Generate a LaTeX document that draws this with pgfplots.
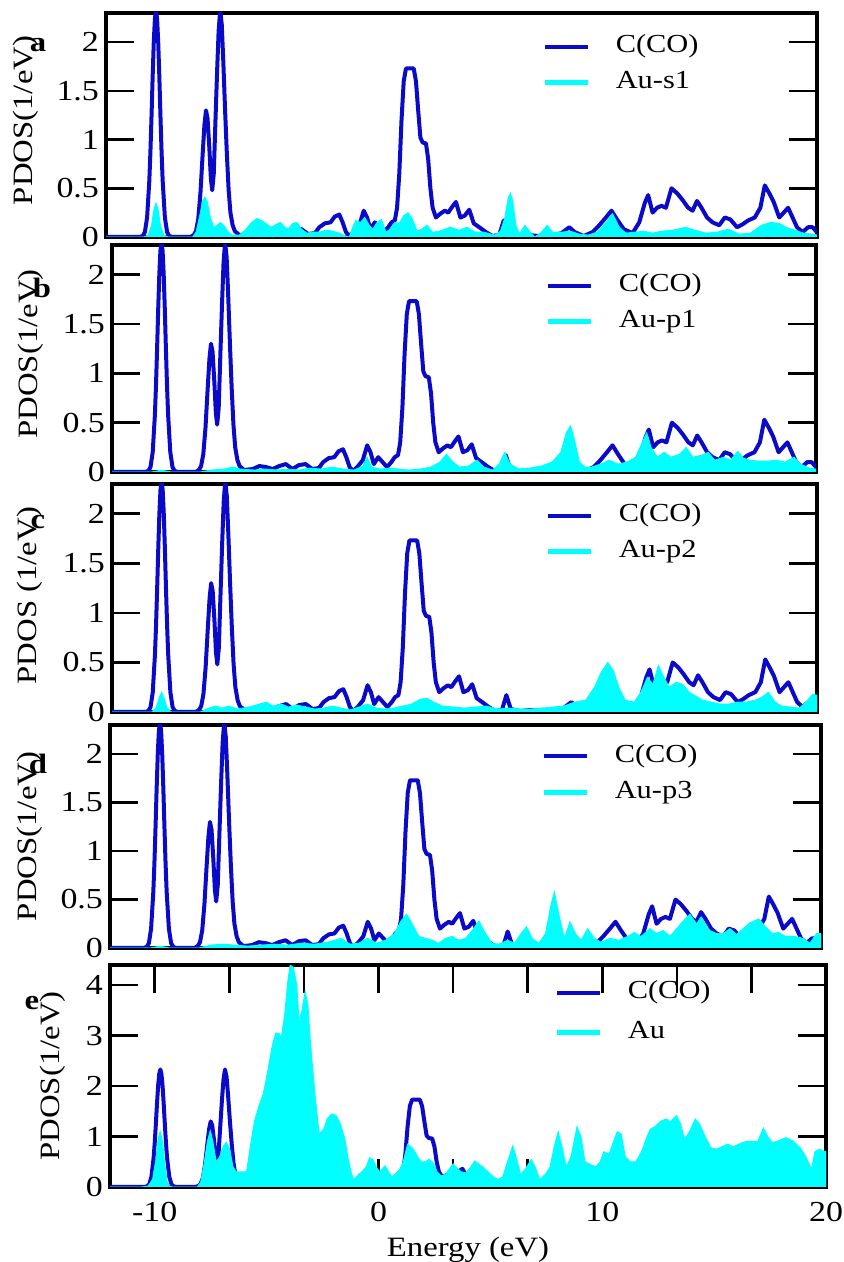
\documentclass[border=0pt]{standalone}
\usepackage{pgfplots}
\pgfplotsset{compat=1.18}
\usepackage{pgfplotstable}
\usepackage{fontspec}
\setmainfont{Liberation Serif}[FakeStretch=1.17]
\definecolor{ccoblue}{RGB}{10,10,200}
\definecolor{aucyan}{RGB}{0,255,255}

\pgfplotstableread{
x y
-12 0
-10.5 0
-10.35 0.01
-10.25 0.05
-10.15 0.2
-10.05 0.58
-10.0 0.88
-9.95 1.25
-9.9 1.65
-9.85 2.0
-9.8 2.24
-9.75 2.33
-9.7 2.24
-9.65 2.0
-9.6 1.65
-9.55 1.25
-9.5 0.88
-9.45 0.58
-9.35 0.2
-9.25 0.05
-9.15 0.01
-9.0 0
-8.2 0
-8.05 0.02
-7.95 0.06
-7.85 0.18
-7.75 0.45
-7.65 0.85
-7.57 1.15
-7.5 1.3
-7.43 1.22
-7.35 0.92
-7.28 0.6
-7.22 0.48
-7.15 0.65
-7.08 1.15
-7.0 1.7
-6.93 2.12
-6.86 2.33
-6.79 2.18
-6.72 1.8
-6.64 1.3
-6.56 0.85
-6.48 0.48
-6.4 0.25
-6.3 0.12
-6.2 0.06
-6.0 0.02
-5.6 0.03
-5.3 0.06
-5.0 0.05
-4.7 0.03
-4.4 0.06
-4.1 0.08
-3.8 0.03
-3.5 0.07
-3.2 0.08
-2.9 0.03
-2.6 0.04
-2.4 0.1
-2.15 0.14
-1.9 0.15
-1.7 0.21
-1.5 0.23
-1.35 0.15
-1.2 0.05
-1.05 0.01
-0.85 0.05
-0.6 0.12
-0.4 0.27
-0.25 0.2
-0.1 0.08
0.1 0.15
0.3 0.1
0.5 0.05
0.7 0.1
0.85 0.15
1.0 0.17
1.1 0.3
1.2 0.65
1.3 1.2
1.4 1.6
1.5 1.73
1.85 1.73
1.95 1.6
2.05 1.3
2.15 1.02
2.25 0.97
2.4 0.96
2.5 0.8
2.6 0.5
2.7 0.3
2.85 0.2
3.05 0.24
3.25 0.27
3.4 0.25
3.55 0.3
3.75 0.36
3.95 0.2
4.15 0.22
4.35 0.28
4.55 0.14
4.8 0.1
5.1 0.05
5.4 0.01
5.7 0.02
5.9 0.17
6.1 0.03
6.5 0.01
7.0 0.02
7.5 0.01
8.0 0.01
8.5 0.04
8.85 0.1
9.1 0.05
9.5 0.01
9.9 0.05
10.2 0.12
10.5 0.2
10.75 0.27
11.0 0.18
11.3 0.08
11.7 0.04
12.0 0.15
12.25 0.35
12.4 0.43
12.6 0.25
12.8 0.3
13.0 0.32
13.2 0.3
13.45 0.5
13.7 0.45
13.95 0.38
14.2 0.3
14.4 0.27
14.6 0.37
14.8 0.3
15.05 0.2
15.3 0.15
15.6 0.12
15.85 0.2
16.1 0.18
16.4 0.1
16.65 0.13
16.9 0.17
17.2 0.2
17.45 0.3
17.65 0.53
17.85 0.45
18.05 0.36
18.3 0.2
18.5 0.25
18.7 0.3
18.9 0.2
19.1 0.1
19.35 0.05
19.6 0.1
19.8 0.1
20 0.05
}\cco

\pgfplotstableread{
x y
-12 0
-10.3 0
-10.1 0.02
-9.95 0.12
-9.85 0.28
-9.75 0.35
-9.65 0.28
-9.55 0.12
-9.4 0.02
-9.2 0
-8.1 0
-7.95 0.05
-7.8 0.2
-7.65 0.37
-7.55 0.41
-7.45 0.37
-7.3 0.2
-7.15 0.1
-7.0 0.12
-6.85 0.15
-6.7 0.12
-6.5 0.05
-6.3 0.02
-6.0 0.02
-5.7 0.08
-5.45 0.15
-5.2 0.19
-5.0 0.17
-4.75 0.13
-4.55 0.1
-4.35 0.13
-4.15 0.15
-3.95 0.1
-3.8 0.08
-3.6 0.14
-3.4 0.15
-3.2 0.08
-2.95 0.04
-2.7 0.05
-2.4 0.05
-2.1 0.07
-1.8 0.06
-1.5 0.04
-1.2 0.01
-1.05 0.0
-0.9 0.1
-0.75 0.17
-0.55 0.15
-0.35 0.2
-0.15 0.12
0.0 0.08
0.2 0.15
0.4 0.18
0.6 0.05
0.8 0.08
1.0 0.15
1.2 0.14
1.4 0.22
1.6 0.25
1.8 0.18
2.0 0.06
2.2 0.08
2.45 0.12
2.7 0.05
3.0 0.06
3.5 0.1
3.9 0.07
4.25 0.1
4.6 0.05
5.0 0.05
5.5 0.02
5.75 0.06
5.95 0.2
6.1 0.4
6.2 0.45
6.3 0.38
6.45 0.12
6.6 0.03
6.85 0.12
7.1 0.05
7.3 0.0
7.6 0.05
7.85 0.12
8.1 0.05
8.5 0.05
8.9 0.06
9.3 0.03
9.7 0.02
10.1 0.05
10.5 0.15
10.8 0.24
11.1 0.1
11.4 0.04
11.8 0.05
12.2 0.06
12.6 0.04
13.0 0.06
13.5 0.07
14.1 0.1
14.5 0.07
15.0 0.04
15.5 0.05
16.0 0.08
16.5 0.03
17.0 0.04
17.5 0.12
17.9 0.15
18.3 0.14
18.6 0.1
19.0 0.07
19.4 0.04
19.8 0.03
20 0.02
}\aus

\pgfplotstableread{
x y
-12 0
-10.2 0
-9.75 0.02
-9.3 0
-8 0
-7.5 0.02
-6.9 0.03
-6.5 0.05
-6.2 0.03
-5.5 0.02
-5 0.03
-4.5 0.02
-4 0.03
-3.5 0.02
-3 0.04
-2.5 0.03
-2 0.05
-1.5 0.03
-1 0.02
-0.6 0.06
-0.4 0.15
-0.2 0.05
0.2 0.03
0.6 0.04
1.0 0.03
1.5 0.02
2.0 0.03
2.5 0.05
2.9 0.1
3.2 0.18
3.5 0.1
3.8 0.05
4.2 0.06
4.6 0.12
4.9 0.05
5.3 0.02
5.6 0.08
5.85 0.2
6.1 0.08
6.5 0.03
7.0 0.04
7.5 0.06
8.0 0.1
8.4 0.2
8.65 0.4
8.85 0.47
9.05 0.3
9.25 0.1
9.5 0.05
9.8 0.05
10.2 0.08
10.6 0.12
11.0 0.08
11.4 0.1
11.8 0.15
12.1 0.3
12.3 0.4
12.5 0.25
12.8 0.15
13.1 0.2
13.4 0.15
13.8 0.18
14.1 0.25
14.4 0.15
14.8 0.17
15.1 0.2
15.4 0.12
15.8 0.15
16.1 0.12
16.45 0.21
16.7 0.14
17.0 0.12
17.4 0.11
17.8 0.11
18.2 0.12
18.6 0.1
19.0 0.15
19.3 0.08
19.7 0.04
20 0.03
}\aupa

\pgfplotstableread{
x y
-12 0
-10.2 0
-10.0 0.04
-9.85 0.15
-9.75 0.2
-9.65 0.15
-9.5 0.04
-9.3 0
-8 0
-7.6 0.04
-7.3 0.06
-7.0 0.04
-6.7 0.06
-6.3 0.03
-5.8 0.05
-5.3 0.08
-5.0 0.1
-4.7 0.06
-4.3 0.08
-4.0 0.05
-3.6 0.07
-3.2 0.05
-2.8 0.03
-2.4 0.04
-2.0 0.06
-1.6 0.04
-1.2 0.02
-0.8 0.05
-0.4 0.08
0.0 0.04
0.4 0.03
0.8 0.04
1.2 0.06
1.6 0.08
2.0 0.13
2.3 0.14
2.6 0.1
3.0 0.06
3.5 0.05
4.0 0.04
4.5 0.05
5.0 0.06
5.5 0.03
6.0 0.04
6.5 0.03
7.0 0.03
7.5 0.04
8.0 0.05
8.5 0.06
9.0 0.1
9.5 0.12
9.9 0.25
10.2 0.4
10.5 0.5
10.75 0.42
11.0 0.25
11.3 0.12
11.7 0.1
12.0 0.2
12.3 0.35
12.55 0.28
12.8 0.47
13.05 0.35
13.3 0.25
13.6 0.3
13.9 0.28
14.2 0.2
14.5 0.16
14.8 0.12
15.2 0.1
15.6 0.08
16.0 0.08
16.4 0.1
16.8 0.1
17.2 0.12
17.5 0.15
17.8 0.2
18.1 0.1
18.4 0.06
18.8 0.05
19.2 0.04
19.5 0.1
19.8 0.18
20 0.17
}\aupb

\pgfplotstableread{
x y
-12 0
-10.2 0
-9.75 0.02
-9.3 0
-8.0 0
-7.5 0.03
-6.9 0.04
-6.4 0.03
-5.8 0.02
-5.2 0.03
-4.6 0.04
-4.0 0.03
-3.4 0.05
-2.8 0.04
-2.2 0.06
-1.6 0.1
-1.2 0.04
-0.8 0.05
-0.4 0.1
0.0 0.05
0.4 0.08
0.8 0.15
1.1 0.28
1.35 0.35
1.6 0.25
1.9 0.12
2.2 0.1
2.5 0.08
2.8 0.05
3.1 0.1
3.4 0.12
3.7 0.08
4.0 0.1
4.3 0.18
4.6 0.28
4.9 0.15
5.2 0.05
5.5 0.04
5.9 0.08
6.2 0.05
6.5 0.15
6.75 0.22
7.0 0.1
7.3 0.05
7.6 0.15
7.85 0.45
8.0 0.58
8.2 0.35
8.45 0.1
8.7 0.27
8.95 0.15
9.2 0.08
9.5 0.2
9.8 0.1
10.1 0.06
10.5 0.1
10.9 0.08
11.3 0.12
11.6 0.16
11.9 0.12
12.3 0.2
12.6 0.15
12.9 0.18
13.2 0.12
13.5 0.2
13.8 0.28
14.1 0.35
14.4 0.25
14.6 0.32
15.0 0.18
15.3 0.15
15.6 0.15
15.9 0.2
16.2 0.14
16.5 0.2
16.8 0.26
17.2 0.3
17.5 0.22
17.8 0.15
18.1 0.16
18.4 0.12
18.8 0.12
19.2 0.1
19.5 0.05
19.8 0.15
20 0.15
}\aupc

\pgfplotstableread{
x y
-12 0
-10.6 0
-10.3 0.02
-10.1 0.15
-9.95 0.55
-9.85 0.95
-9.76 1.1
-9.65 0.9
-9.55 0.45
-9.45 0.12
-9.35 0.02
-9.2 0
-8.1 0
-7.95 0.1
-7.8 0.45
-7.65 0.9
-7.52 1.12
-7.4 0.9
-7.25 0.5
-7.1 0.6
-6.95 0.8
-6.8 0.89
-6.65 0.75
-6.5 0.4
-6.35 0.3
-6.1 0.3
-5.9 0.3
-5.75 0.75
-5.55 1.3
-5.35 1.6
-5.15 1.85
-4.95 2.3
-4.75 2.8
-4.6 3.05
-4.45 3.05
-4.35 2.95
-4.2 3.4
-4.05 4.1
-3.95 4.4
-3.8 4.35
-3.65 4.0
-3.55 3.3
-3.42 3.5
-3.28 3.88
-3.15 3.6
-3.03 2.8
-2.85 1.9
-2.65 1.05
-2.45 1.15
-2.3 1.35
-2.1 1.45
-1.9 1.42
-1.7 1.25
-1.5 0.95
-1.35 0.55
-1.2 0.25
-1.1 0.15
-0.9 0.25
-0.75 0.3
-0.55 0.4
-0.4 0.58
-0.25 0.55
-0.1 0.4
0.05 0.3
0.2 0.38
0.3 0.42
0.45 0.3
0.6 0.2
0.8 0.28
0.95 0.35
1.1 0.5
1.3 0.85
1.45 0.8
1.6 0.72
1.75 0.6
1.9 0.5
2.1 0.5
2.26 0.55
2.45 0.48
2.62 0.3
2.8 0.22
2.98 0.25
3.15 0.35
3.34 0.46
3.5 0.38
3.7 0.3
3.9 0.28
4.1 0.38
4.3 0.52
4.5 0.45
4.66 0.4
4.9 0.3
5.14 0.2
5.35 0.15
5.55 0.2
5.8 0.55
6.0 0.82
6.15 0.6
6.35 0.25
6.55 0.35
6.83 0.55
7.0 0.4
7.2 0.15
7.45 0.25
7.67 0.4
7.85 0.8
8.03 1.1
8.2 0.8
8.39 0.4
8.6 0.6
8.87 1.2
9.05 1.0
9.23 0.5
9.45 0.45
9.71 0.4
9.9 0.5
10.07 0.7
10.3 0.65
10.5 0.9
10.67 1.1
10.85 1.05
11.03 0.6
11.25 0.5
11.5 0.5
11.75 0.7
12.0 1.0
12.15 1.15
12.36 1.2
12.6 1.3
12.84 1.35
13.05 1.3
13.32 1.42
13.5 1.25
13.68 0.95
13.9 1.1
14.16 1.35
14.35 1.25
14.6 1.0
14.85 0.78
15.1 0.75
15.35 0.8
15.6 0.85
15.85 0.8
16.1 0.85
16.4 0.9
16.7 0.9
16.95 0.9
17.2 1.17
17.4 1.0
17.6 0.88
17.9 0.92
18.2 0.98
18.5 0.92
18.85 0.78
19.1 0.6
19.35 0.35
19.5 0.7
19.7 0.75
19.85 0.72
20 0.7
}\autot

\pgfplotsset{
  pdos/.style={
    scale only axis, xmin=-12, xmax=20, ymin=0,
    axis line style={line width=2pt},
    tick align=inside,
    major tick length=14pt, minor tick length=14pt,
    every tick/.style={black, line width=1.3pt},
    xtick=\empty,
    /pgf/number format/assume math mode=true,
    tick label style={font=\fontsize{14.5}{16}\selectfont},
    label style={font=\fontsize{14}{16}\selectfont},
    ylabel style={anchor=center},
    legend style={draw=none, fill=none, anchor=north west, inner sep=0pt,
      row sep=6pt, font=\fontsize{13}{15}\selectfont,
      nodes={inner sep=0pt, text height=9pt, text depth=3pt}},
    legend cell align=left,
    legend image code/.code={\draw[##1] (0pt,0pt) -- (21.5pt,0pt);\path[draw=none,fill=none] (0pt,0pt) -- (35.5pt,0pt);},
  },
  ccoline/.style={ccoblue, line width=2pt, line join=round, forget plot},
  aufill/.style={fill=aucyan, draw=aucyan, line width=0.4pt, forget plot},
}

\begin{document}
\begin{tikzpicture}
\path[use as bounding box] (0pt,0pt) rectangle (422pt,631pt);

% panel a
\begin{axis}[pdos, at={(53pt,512.5pt)}, anchor=south west, width=355.5pt, height=112pt,
  ymax=2.3, ytick={0,0.5,1,1.5,2}, ylabel={PDOS(1/eV)},
  ylabel style={at={(axis description cs:-0.1125,0.52)}},
  legend style={at={(axis description cs:0.613,0.905)}}]
\addlegendimage{ccoblue, line width=2pt}\addlegendentry{C(CO)}
\addlegendimage{aucyan, line width=2.5pt}\addlegendentry{Au-s1}
\addplot[ccoline] table {\cco};
\addplot[aufill] table {\aus} \closedcycle;
\end{axis}

% panel b
\begin{axis}[pdos, at={(56pt,395pt)}, anchor=south west, width=352pt, height=113.5pt,
  ymax=2.3, ytick={0,0.5,1,1.5,2}, ylabel={PDOS(1/eV)},
  ylabel style={at={(axis description cs:-0.115,0.52)}},
  legend style={at={(axis description cs:0.615,0.875)}}]
\addlegendimage{ccoblue, line width=2pt}\addlegendentry{C(CO)}
\addlegendimage{aucyan, line width=2.5pt}\addlegendentry{Au-p1}
\addplot[ccoline] table {\cco};
\addplot[aufill] table {\aupa} \closedcycle;
\end{axis}

% panel c
\begin{axis}[pdos, at={(56pt,275pt)}, anchor=south west, width=352.5pt, height=114pt,
  ymax=2.3, ytick={0,0.5,1,1.5,2}, ylabel={PDOS (1/eV)},
  ylabel style={at={(axis description cs:-0.116,0.51)}},
  legend style={at={(axis description cs:0.614,0.915)}}]
\addlegendimage{ccoblue, line width=2pt}\addlegendentry{C(CO)}
\addlegendimage{aucyan, line width=2.5pt}\addlegendentry{Au-p2}
\addplot[ccoline] table {\cco};
\addplot[aufill] table {\aupb} \closedcycle;
\end{axis}

% panel d
\begin{axis}[pdos, at={(55pt,157pt)}, anchor=south west, width=355.5pt, height=111.5pt,
  ymax=2.3, ytick={0,0.5,1,1.5,2}, ylabel={PDOS(1/eV)},
  ylabel style={at={(axis description cs:-0.1125,0.5)}},
  legend style={at={(axis description cs:0.606,0.915)}}]
\addlegendimage{ccoblue, line width=2pt}\addlegendentry{C(CO)}
\addlegendimage{aucyan, line width=2.5pt}\addlegendentry{Au-p3}
\addplot[ccoline] table {\cco};
\addplot[aufill] table {\aupc} \closedcycle;
\end{axis}

% panel e
\begin{axis}[pdos, at={(55pt,37.5pt)}, anchor=south west, width=358pt, height=111pt,
  ymax=4.4, ytick={0,1,2,3,4}, ylabel={PDOS(1/eV)},
  xtick={-10,0,10,20}, minor x tick num=2,
  xticklabel style={yshift=-4pt},
  xlabel={Energy (eV)},
  xlabel style={font=\fontsize{14}{16}\selectfont, yshift=-1pt},
  ylabel style={at={(axis description cs:-0.08,0.5)}},
  legend style={at={(axis description cs:0.62,0.932)}, row sep=8pt}]
\addlegendimage{ccoblue, line width=2pt}\addlegendentry{C(CO)}
\addlegendimage{aucyan, line width=2.5pt}\addlegendentry{Au}
\addplot[ccoline] table {\cco};
\addplot[aufill] table {\autot} \closedcycle;
\end{axis}

\node[font=\bfseries\fontsize{14}{16}\selectfont] at (19pt,608.5pt) {a};
\node[font=\bfseries\fontsize{14}{16}\selectfont] at (21pt,487pt) {b};
\node[font=\bfseries\fontsize{14}{16}\selectfont] at (19pt,370pt) {c};
\node[font=\bfseries\fontsize{14}{16}\selectfont] at (19pt,249pt) {d};
\node[font=\bfseries\fontsize{14}{16}\selectfont] at (16pt,129.5pt) {e};
\end{tikzpicture}
\end{document}
